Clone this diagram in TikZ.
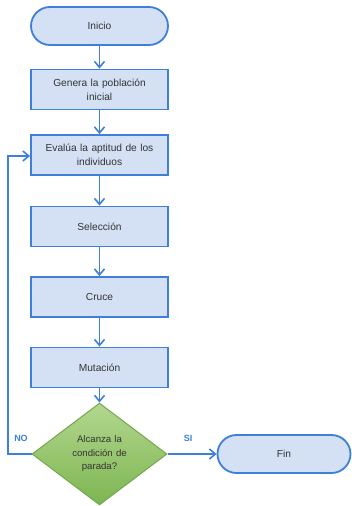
\documentclass[tikz,border=0pt]{standalone}
\usepackage{fontspec}
\setmainfont{Liberation Sans}
\usetikzlibrary{shapes.geometric,arrows.meta}
\definecolor{bfill}{HTML}{D4E1F5}
\definecolor{bline}{HTML}{3F7FDA}
\definecolor{gline}{HTML}{72A84A}
\definecolor{gtop}{HTML}{B3D78E}
\definecolor{gbot}{HTML}{7DB552}
\definecolor{txt}{HTML}{333333}
\tikzset{
  base/.style={draw=bline, line width=1.8pt, fill=bfill, text=txt, font=\fontsize{10.2}{14}\selectfont, align=center, inner sep=1pt},
  procbox/.style={base, rectangle, minimum width=137pt, minimum height=40pt, text width=130pt},
  termbox/.style={base, rounded corners=19pt, minimum width=137pt, minimum height=38pt},
  decbox/.style={diamond, draw=gline, line width=1pt, top color=gtop, bottom color=gbot, text=txt, font=\fontsize{9.6}{13.5}\selectfont, align=center, minimum width=135pt, minimum height=101pt, inner sep=0pt, text width=66pt},
  conn/.style={draw=bline, line width=1.8pt, -{Straight Barb[length=6pt,width=10pt,line width=1.6pt]}},
  lbl/.style={text=bline, font=\bfseries\fontsize{9}{10}\selectfont, inner sep=0pt}
}
\begin{document}
\begin{tikzpicture}[x=1pt,y=-1pt]
\useasboundingbox (0,0) rectangle (351,506);
\node[termbox] (ini) at (99.5,26) {Inicio};
\node[procbox] (gen) at (99.5,89.5) {Genera la población\\inicial};
\node[procbox] (eva) at (99.5,155) {Evalúa la aptitud de los\\individuos};
\node[procbox] (sel) at (99.5,226.5) {Selección};
\node[procbox] (cru) at (99.5,297) {Cruce};
\node[procbox] (mut) at (99.5,367.5) {Mutación};
\node[decbox] (dec) at (99.5,454) {Alcanza la\\condición de\\parada?};
\node[termbox, minimum width=133pt] (fin) at (284,454) {Fin};
\coordinate (lb) at (8,454);
\coordinate (lt) at (8,156);
\draw[conn] (ini) -- (gen);
\draw[conn] (gen) -- (eva);
\draw[conn] (eva) -- (sel);
\draw[conn] (sel) -- (cru);
\draw[conn] (cru) -- (mut);
\draw[conn] (mut) -- (dec);
\draw[conn] (dec.east) -- (fin.west);
\draw[conn] (dec.west) -- (lb) -- (lt) -- (lt -| eva.west);
\node[lbl] (no) at (21,438) {NO};
\node[lbl] (si) at (188,438) {SI};
\end{tikzpicture}
\end{document}
